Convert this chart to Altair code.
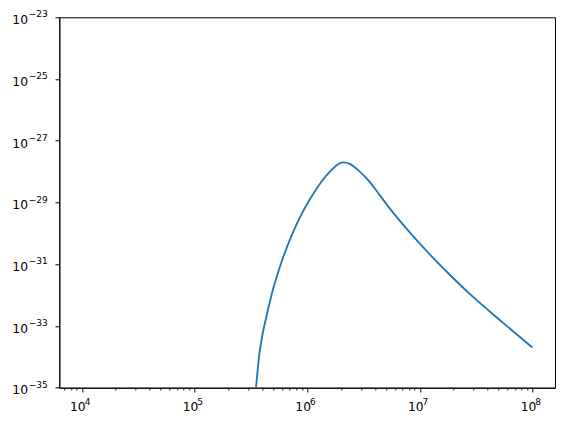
import altair as alt
import pandas as pd

# curve values (log10 of x and log10 of y)
log_x = [5.546, 5.578, 5.605, 5.638, 5.696, 5.785, 5.874, 5.963, 6.082, 6.200,
         6.289, 6.327, 6.378, 6.467, 6.555, 6.644, 6.733, 6.911, 7.088, 7.266,
         7.443, 7.621, 7.798, 8.000]
log_y = [-35.00, -33.85, -33.25, -32.70, -31.83, -30.80, -29.97, -29.29, -28.56, -28.01,
         -27.73, -27.70, -27.75, -28.00, -28.33, -28.76, -29.19, -29.97, -30.68, -31.34,
         -31.96, -32.53, -33.08, -33.70]

x_major_exp = [4, 5, 6, 7, 8]
y_major_exp = [-23, -25, -27, -29, -31, -33, -35]
x_minor_mult = [2, 3, 4, 5, 6, 7, 8, 9]
x_domain_exp = [3.8, 8.2]
y_domain_exp = [-35, -23]

SUP_MINUS = "\u2212"

df = pd.DataFrame({"x": [10 ** v for v in log_x], "y": [10 ** v for v in log_y]})

x_major = [10.0 ** e for e in x_major_exp]
x_minor = [m * 10.0 ** e for e in range(3, 9) for m in x_minor_mult
           if 10 ** x_domain_exp[0] <= m * 10.0 ** e <= 10 ** x_domain_exp[1]]
y_major = [10.0 ** e for e in y_major_exp]


def exp_expr(exps):
    parts = [f"abs(log(datum.value)/LN10 - ({e})) < 0.01 ? '{str(e).replace('-', SUP_MINUS)}'"
             for e in exps]
    return " : ".join(parts) + " : ''"


FONT = "DejaVu Sans"
LS = 12.3
ES = 9.0

xscale = alt.Scale(type="log", domain=[10 ** x_domain_exp[0], 10 ** x_domain_exp[1]], nice=False)
yscale = alt.Scale(type="log", domain=[10.0 ** y_domain_exp[0], 10.0 ** y_domain_exp[1]], nice=False)

base_axis = dict(grid=False, domainColor="black", tickColor="black", labelColor="black",
                 labelFont=FONT, domainWidth=1, tickWidth=1, title=None, labelFlush=False)
exp_axis = dict(grid=False, domain=False, ticks=True, tickSize=0, tickOpacity=0,
                labelColor="black", labelFont=FONT, labelFontSize=ES, title=None,
                labelFlush=False, labelBaseline="alphabetic")

main = alt.Chart(df).mark_line(color="#1f77b4", strokeWidth=1.85, clip=True,
                               interpolate="monotone").encode(
    x=alt.X("x:Q", scale=xscale,
            axis=alt.Axis(values=x_major, labelExpr="'10'", tickSize=4.3, labelFontSize=LS,
                          labelPadding=19, labelBaseline="alphabetic", labelAlign="center",
                          labelOffset=-4.5, orient="bottom", **base_axis)),
    y=alt.Y("y:Q", scale=yscale,
            axis=alt.Axis(values=y_major, labelExpr="'10'", tickSize=4.3, labelFontSize=LS,
                          labelPadding=27.5, labelBaseline="alphabetic", labelAlign="right",
                          labelOffset=6.3, orient="left", **base_axis)),
)

minor = alt.Chart(df).mark_line(opacity=0, clip=True).encode(
    x=alt.X("x:Q", scale=xscale,
            axis=alt.Axis(values=x_minor, labels=False, domain=False, tickSize=2.5, orient="bottom",
                          grid=False, tickColor="black", tickWidth=0.8, title=None)),
    y=alt.Y("y:Q", scale=yscale,
            axis=alt.Axis(values=y_major, labelExpr=exp_expr(y_major_exp), labelAlign="left",
                          labelPadding=31, labelOffset=-0.3, orient="left", **exp_axis)),
)

xexp = alt.Chart(df).mark_line(opacity=0, clip=True).encode(
    x=alt.X("x:Q", scale=xscale,
            axis=alt.Axis(values=x_major, labelExpr=exp_expr(x_major_exp), labelAlign="left",
                          labelPadding=17.3, labelOffset=2.3, orient="bottom", **exp_axis)),
    y=alt.Y("y:Q", scale=yscale, axis=None),
)

chart = alt.layer(main, minor, xexp).resolve_axis(x="independent", y="independent").properties(
    width=495.7, height=370.4,
    autosize=alt.AutoSizeParams(type="none"),
    padding={"left": 51.3, "top": 9.3, "right": 2, "bottom": 30},
    background="white",
).configure_view(stroke="black", strokeWidth=1)

chart.save("out.html", embed_options={"renderer": "svg", "actions": False})
